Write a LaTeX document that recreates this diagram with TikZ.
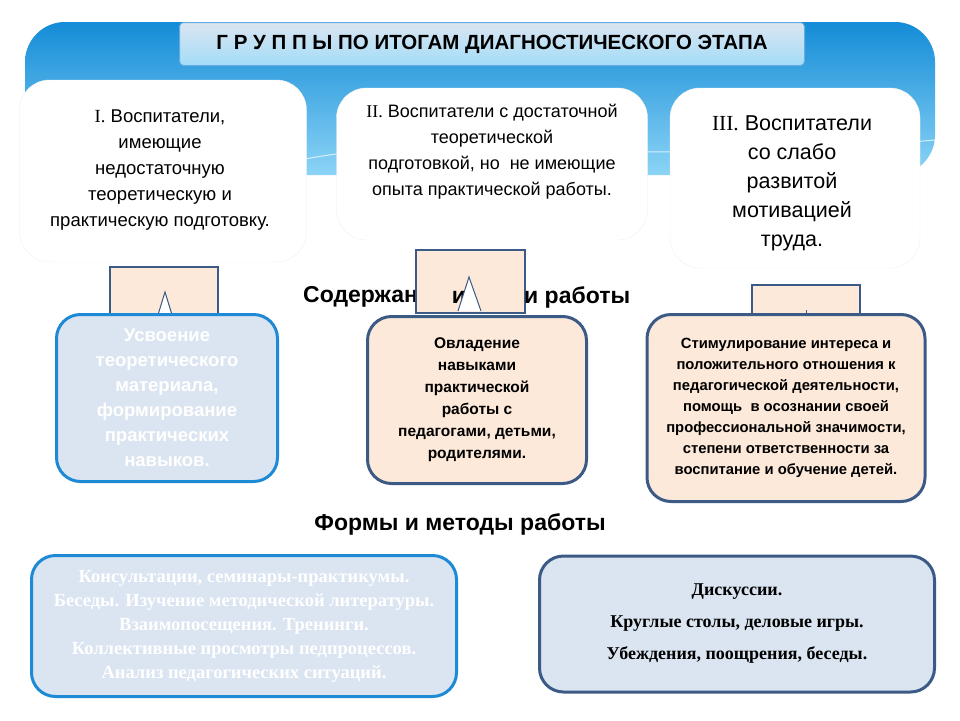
\documentclass[tikz,border=0pt]{standalone}
\usepackage{fontspec}
\setmainfont{Liberation Sans}
\newfontfamily\serifrm{Liberation Serif}
\usetikzlibrary{shapes.geometric}
\definecolor{bdark}{RGB}{20,140,215}
\definecolor{blight}{RGB}{140,212,246}
\definecolor{peach}{RGB}{253,233,217}
\definecolor{pale}{RGB}{219,229,241}
\definecolor{navy}{RGB}{60,90,134}
\definecolor{brightb}{RGB}{30,138,214}
\tikzset{
 grp/.style={draw=black!6,fill=white,rounded corners=30pt,align=center},
 sq/.style={draw=navy,line width=2pt,fill=peach},
 mbox/.style={line width=3pt,rounded corners=24pt,align=center,font=\bfseries\fontsize{15.5}{22}\selectfont},
 head/.style={font=\bfseries\fontsize{23}{24}\selectfont,inner sep=0pt},
}
\begin{document}
\begin{tikzpicture}[x=1pt,y=-1pt]
\useasboundingbox (0,0) rectangle (960,720);
\fill[white] (0,0) rectangle (960,720);
% blue banner
\shade[top color=bdark,bottom color=blight,rounded corners=40pt] (25,175) -- (25,22) -- (935,22) -- (935,175) [sharp corners]-- cycle;
\draw[white,opacity=.7,line width=1pt] (300,160) .. controls (450,130) and (600,170) .. (935,140);
% title
\node[draw=brightb!70,line width=1pt,top color=pale,bottom color=blight!80,rounded corners=4pt,minimum width=625pt,minimum height=43pt,font=\bfseries\fontsize{20.5}{22}\selectfont] (title) at (492,44) {Г Р У П П Ы ПО ИТОГАМ ДИАГНОСТИЧЕСКОГО ЭТАПА};
% groups
\node[grp,minimum width=287pt,minimum height=182pt] (g1) at (163,171) {};
\node[align=center,font=\fontsize{18.5}{26}\selectfont] (t1) at (160,170) {{\serifrm I.} Воспитатели,\\имеющие\\недостаточную\\теоретическую и\\практическую подготовку.};
\node[grp,minimum width=311pt,minimum height=152pt] (g2) at (492,164) {};
\node[align=center,font=\fontsize{18}{26}\selectfont] (t2) at (492,152) {{\serifrm II.} Воспитатели с достаточной\\теоретической\\подготовкой, но \ не имеющие\\опыта практической работы.};
\node[grp,minimum width=250pt,minimum height=180pt] (g3) at (795,178) {};
\node[align=center,font=\fontsize{21.5}{29}\selectfont] (t3) at (792,183) {{\serifrm III.} Воспитатели\\со слабо\\развитой\\мотивацией\\труда.};
% squares and heading
\draw[sq] (110,330) rectangle (218,267);
\draw[navy,fill=white,line width=1pt] (157,318) -- (165,292) -- (173,318);
\node[head,anchor=west] (h1) at (303,297) {Содержан};
\draw[sq] (416,313) rectangle (525,250);
\node[head] (h2) at (459,297) {и};
\node[head,anchor=west] (h3) at (524,297) {и работы};
\draw[navy,fill=white,line width=1pt] (458,311) -- (469,277) -- (481,311);
\draw[sq] (752,330) rectangle (860,285);
\draw[navy,line width=.8pt] (806,310) -- (806,318);
% middle boxes
\node[mbox,draw=brightb,fill=pale,text=white,minimum width=221pt,minimum height=167pt,font=\bfseries\fontsize{18.5}{25}\selectfont] (m1) at (167,398) {Усвоение\\теоретического\\материала,\\формирование\\практических\\навыков.};
\node[mbox,draw=navy,fill=peach,minimum width=219pt,minimum height=167pt] (m2) at (477,400) {Овладение\\навыками\\практической\\работы с\\педагогами, детьми,\\родителями.};
\node[mbox,draw=navy,fill=peach,minimum width=278pt,minimum height=187pt,font=\bfseries\fontsize{14.8}{21}\selectfont] (m3) at (786,408) {Стимулирование интереса и\\положительного отношения к\\педагогической деятельности,\\помощь \ в осознании своей\\профессиональной значимости,\\степени ответственности за\\воспитание и обучение детей.};
\node[head] (forms) at (460,524) {Формы и методы работы};
% bottom boxes
\node[mbox,draw=brightb,fill=pale,text=white,minimum width=425pt,minimum height=141pt,font=\serifrm\bfseries\fontsize{18.5}{24}\selectfont] (b1) at (244,626) {Консультации, семинары-практикумы.\\Беседы. Изучение методической литературы.\\Взаимопосещения. Тренинги.\\Коллективные просмотры педпроцессов.\\Анализ педагогических ситуаций.};
\node[mbox,draw=navy,fill=pale,minimum width=395pt,minimum height=136pt,font=\serifrm\bfseries\fontsize{18}{32}\selectfont] (b2) at (737,624) {Дискуссии.\\Круглые столы, деловые игры.\\Убеждения, поощрения, беседы.};
\end{tikzpicture}
\end{document}
